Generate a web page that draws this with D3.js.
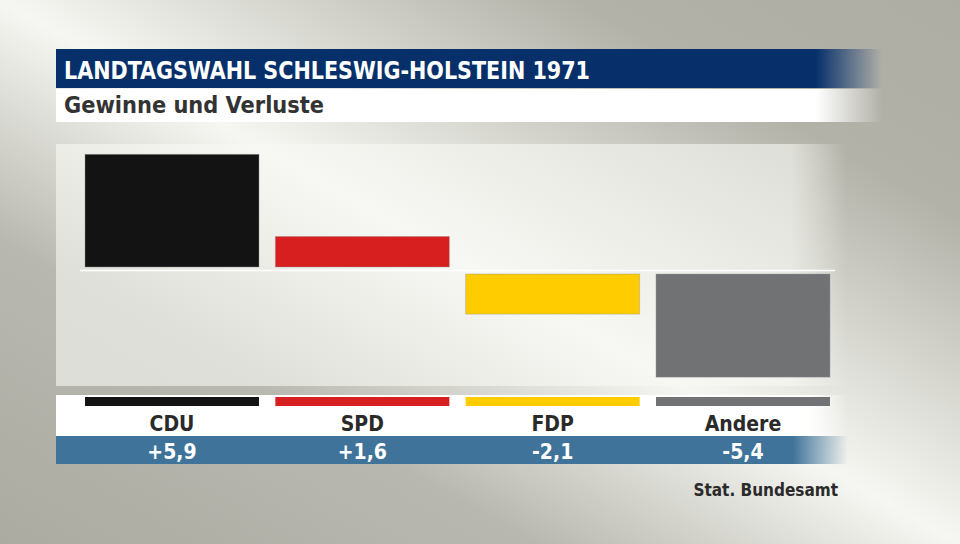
<!DOCTYPE html>
<html>
<head>
<meta charset="utf-8">
<script src="https://cdn.jsdelivr.net/npm/d3@7"></script>
<style>
html,body{margin:0;padding:0;background:#d8d8d0;}
svg{display:block;}
text{font-family:"Liberation Sans Narrow","DejaVu Sans Condensed","Open Sans",sans-serif;}
</style>
</head>
<body>
<script>
const title = "LANDTAGSWAHL SCHLESWIG-HOLSTEIN 1971";
const subtitle = "Gewinne und Verluste";
const source = "Stat. Bundesamt";
const categories = ["CDU", "SPD", "FDP", "Andere"];
const values = [5.9, 1.6, -2.1, -5.4];
const valueLabels = ["+5,9", "+1,6", "-2,1", "-5,4"];
const colors = ["#131313", "#d71f20", "#ffcc00", "#717274"];

const W = 960, H = 544;
const svg = d3.select("body").append("svg").attr("width", W).attr("height", H);
const defs = svg.append("defs");

// background gradient
const bg = defs.append("linearGradient").attr("id", "bg")
  .attr("x1", 1).attr("y1", 0).attr("x2", 0).attr("y2", 1);
[[0, "#aeada4"], [0.2, "#b3b2a9"], [0.5, "#f6f7f2"], [0.72, "#b9b8b0"], [1, "#acaba2"]]
  .forEach(([o, c]) => bg.append("stop").attr("offset", o).attr("stop-color", c));
svg.append("rect").attr("width", W).attr("height", H).attr("fill", "url(#bg)");

function fade(id, color, start) {
  const g = defs.append("linearGradient").attr("id", id).attr("x1", 0).attr("x2", 1).attr("y1", 0).attr("y2", 0);
  g.append("stop").attr("offset", 0).attr("stop-color", color).attr("stop-opacity", 1);
  g.append("stop").attr("offset", start).attr("stop-color", color).attr("stop-opacity", 1);
  g.append("stop").attr("offset", 1).attr("stop-color", color).attr("stop-opacity", 0);
}
fade("fTitle", "#07306b", 0.92);
fade("fSub", "#ffffff", 0.92);
fade("fPanel", "#f8f9f4", 0.93);
fade("fBand", "#ffffff", 0.95);
fade("fBlue", "#3f7399", 0.93);

// header
svg.append("rect").attr("x", 56).attr("y", 49).attr("width", 826).attr("height", 39).attr("fill", "url(#fTitle)");
svg.append("rect").attr("x", 56).attr("y", 89).attr("width", 826).attr("height", 33).attr("fill", "url(#fSub)");
svg.append("text").attr("x", 64).attr("y", 79).attr("fill", "#ffffff")
  .attr("font-size", 25).attr("font-weight", "bold")
  .attr("textLength", 526).attr("lengthAdjust", "spacingAndGlyphs").text(title);
svg.append("text").attr("x", 64).attr("y", 113).attr("fill", "#333333")
  .attr("font-size", 23).attr("font-weight", "bold")
  .attr("textLength", 260).attr("lengthAdjust", "spacingAndGlyphs").text(subtitle);

// chart panel
svg.append("rect").attr("x", 56).attr("y", 144).attr("width", 790).attr("height", 242)
  .attr("fill", "url(#fPanel)").attr("opacity", 0.6);

// scales
const x = d3.scaleBand().domain(categories).range([85, 830]).paddingInner(0.0858).paddingOuter(0);
const y = d3.scaleLinear().domain([-6, 6]).range([385.1, 155.9]);
const gap = 3.5;

// zero line
svg.append("line").attr("x1", 80).attr("x2", 835)
  .attr("y1", y(0)).attr("y2", y(0)).attr("stroke", "#ffffff").attr("stroke-width", 1.5);

const data = categories.map((c, i) => ({ c, v: values[i], col: colors[i], lab: valueLabels[i] }));

svg.append("g").selectAll("rect").data(data).join("rect")
  .attr("x", d => x(d.c))
  .attr("width", x.bandwidth())
  .attr("y", d => d.v >= 0 ? y(d.v) - gap : y(0) + gap)
  .attr("height", d => Math.abs(y(d.v) - y(0)))
  .attr("fill", d => d.col)
  .attr("stroke", "rgba(150,150,150,0.5)").attr("stroke-width", 0.8);

// label band
svg.append("rect").attr("x", 56).attr("y", 395).attr("width", 792).attr("height", 41).attr("fill", "url(#fBand)");
svg.append("g").selectAll("rect").data(data).join("rect")
  .attr("x", d => x(d.c)).attr("width", x.bandwidth())
  .attr("y", 397).attr("height", 9).attr("fill", d => d.col);
svg.append("g").selectAll("text").data(data).join("text")
  .attr("x", d => x(d.c) + x.bandwidth() / 2).attr("y", 431)
  .attr("text-anchor", "middle").attr("font-size", 21).attr("font-weight", "bold")
  .attr("fill", "#2a2a2a").text(d => d.c);

// value band
svg.append("rect").attr("x", 56).attr("y", 436).attr("width", 792).attr("height", 28).attr("fill", "url(#fBlue)");
svg.append("g").selectAll("text").data(data).join("text")
  .attr("x", d => x(d.c) + x.bandwidth() / 2).attr("y", 459)
  .attr("text-anchor", "middle").attr("font-size", 21).attr("font-weight", "bold")
  .attr("fill", "#ffffff").text(d => d.lab);

// source
svg.append("text").attr("x", 838).attr("y", 496).attr("text-anchor", "end")
  .attr("font-size", 17).attr("font-weight", "bold").attr("fill", "#2a2a2a").text(source);
</script>
</body>
</html>
